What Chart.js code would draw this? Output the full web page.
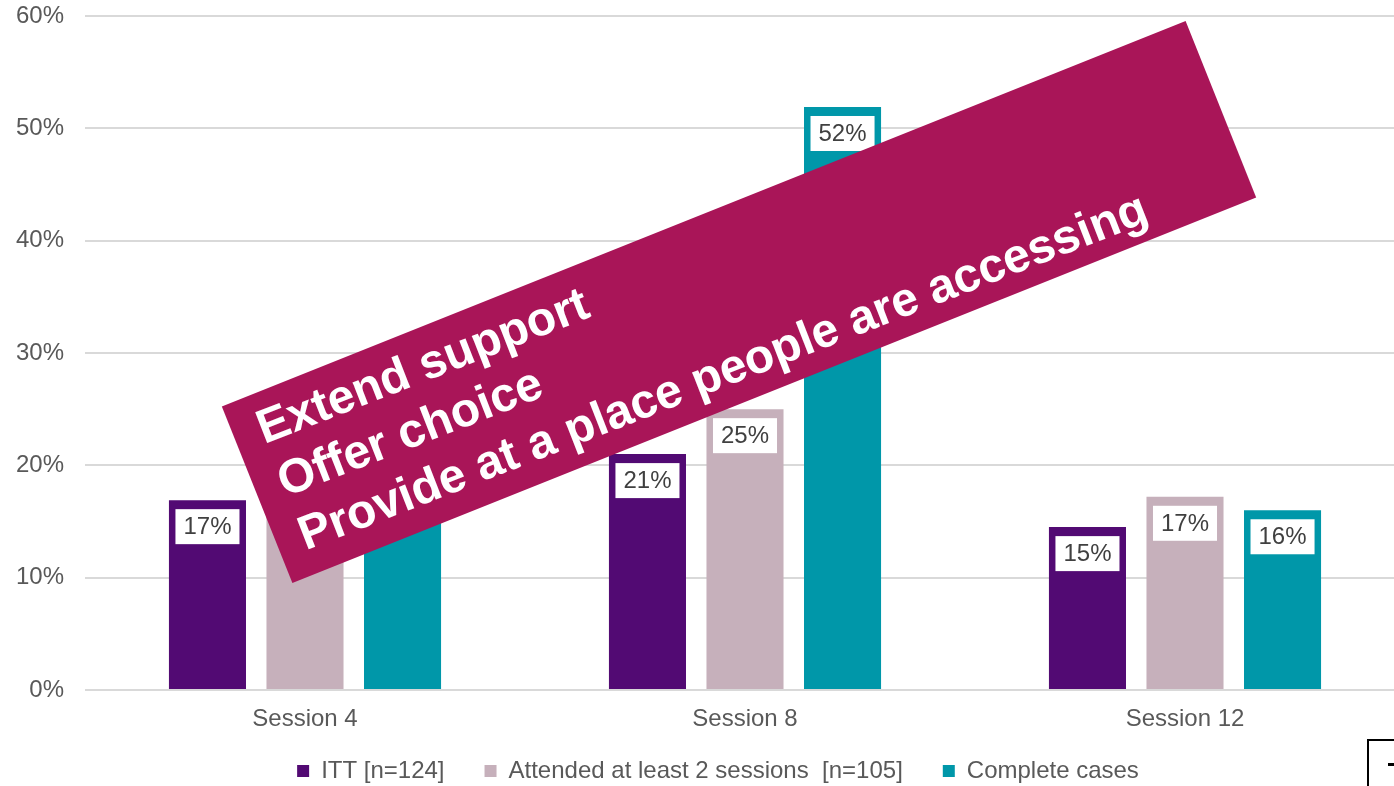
<!DOCTYPE html>
<html>
<head>
<meta charset="utf-8">
<script src="https://cdn.jsdelivr.net/npm/chart.js@4.4.1/dist/chart.umd.min.js"></script>
<style>
  html, body { margin: 0; padding: 0; background: #ffffff; overflow: hidden; width: 1394px; height: 786px; }
  #wrap { position: absolute; left: 0; top: 0; width: 1410px; height: 793px; }
  #corner { position: absolute; left: 1367px; top: 739px; width: 60px; height: 60px; border-left: 2px solid #000; border-top: 2px solid #000; }
  #corner span { position: absolute; left: 19px; top: 22px; width: 10px; height: 3px; background: #000; }
</style>
</head>
<body>
<div id="wrap"><canvas id="c"></canvas></div>
<div id="corner"><span></span></div>
<script>
// ---- data ----
const categories = ['Session 4', 'Session 8', 'Session 12'];
const seriesNames = ['ITT [n=124]', 'Attended at least 2 sessions  [n=105]', 'Complete cases'];
const ittValues = [16.9, 21.0, 14.5];
const attendedValues = [19.0, 25.0, 17.2];
const completeValues = [20.0, 51.9, 16.0];
const yTicks = [0, 10, 20, 30, 40, 50, 60];
const bannerLines = ['Extend support', 'Offer choice', 'Provide at a place people are accessing'];

const colors = ['#520a73', '#c6b0bb', '#0097a9'];
const FONT = '"Liberation Sans", Arial, Helvetica, sans-serif';

const dataLabelPlugin = {
  id: 'dataLabels',
  afterDatasetsDraw(chart) {
    const ctx = chart.ctx;
    ctx.save();
    ctx.font = '24px ' + FONT;
    ctx.textAlign = 'center';
    ctx.textBaseline = 'middle';
    chart.data.datasets.forEach((ds, di) => {
      const meta = chart.getDatasetMeta(di);
      meta.data.forEach((bar, i) => {
        const txt = Math.round(ds.data[i]) + '%';
        const w = ctx.measureText(txt).width + 16;
        const h = 35;
        const top = bar.y + 9;
        ctx.fillStyle = '#ffffff';
        ctx.fillRect(bar.x - w / 2, top, w, h);
        ctx.fillStyle = '#404040';
        ctx.fillText(txt, bar.x, top + h / 2 + 1);
      });
    });
    ctx.restore();
  }
};

const bannerPlugin = {
  id: 'banner',
  afterDraw(chart) {
    const ctx = chart.ctx;
    ctx.save();
    const cx = 739, cy = 302, w = 1038, h = 190;
    ctx.translate(cx, cy);
    ctx.rotate(-21.8 * Math.PI / 180);
    ctx.fillStyle = '#a91558';
    ctx.fillRect(-w / 2, -h / 2, w, h);
    ctx.rotate(0.5 * Math.PI / 180);
    ctx.fillStyle = '#ffffff';
    ctx.font = 'bold 48px ' + FONT;
    ctx.textAlign = 'left';
    ctx.textBaseline = 'alphabetic';
    const base = [-40, 17, 74];
    bannerLines.forEach((t, i) => ctx.fillText(t, -494, base[i]));
    ctx.restore();
  }
};

new Chart(document.getElementById('c'), {
  type: 'bar',
  data: {
    labels: categories,
    datasets: [
      { label: seriesNames[0], data: ittValues, backgroundColor: colors[0], borderWidth: 0 },
      { label: seriesNames[1], data: attendedValues, backgroundColor: colors[1], borderWidth: 0 },
      { label: seriesNames[2], data: completeValues, backgroundColor: colors[2], borderWidth: 0 }
    ]
  },
  options: {
    responsive: true,
    maintainAspectRatio: false,
    animation: false,
    datasets: { bar: { categoryPercentage: 0.665, barPercentage: 0.79 } },
    layout: { padding: { top: 0, right: 5, left: 31, bottom: 0 } },
    plugins: {
      legend: {
        position: 'bottom',
        labels: {
          font: { family: FONT, size: 24 },
          color: '#595959',
          boxWidth: 12,
          boxHeight: 12,
          padding: 40
        }
      },
      tooltip: { enabled: false }
    },
    scales: {
      x: {
        afterFit(scale) {
          scale.height = 29;
          scale._computeLabelArea = () => undefined;
        },
        grid: { display: false, drawTicks: false },
        border: { display: false },
        ticks: { font: { family: FONT, size: 24 }, color: '#595959', padding: 15 }
      },
      y: {
        min: 0, max: 60,
        afterBuildTicks(scale) { scale.ticks = yTicks.map(v => ({ value: v })); },
        afterFit(scale) {
          scale.width = 54; scale.paddingTop = 16; scale.paddingBottom = 0;
          scale._computeLabelArea = () => undefined;
        },
        grid: { color: '#d9d9d9', lineWidth: 2, drawTicks: false },
        border: { display: false },
        ticks: {
          font: { family: FONT, size: 24 }, color: '#595959', padding: 21,
          callback: v => v + '%'
        }
      }
    }
  },
  plugins: [dataLabelPlugin, bannerPlugin]
});
</script>
</body>
</html>
